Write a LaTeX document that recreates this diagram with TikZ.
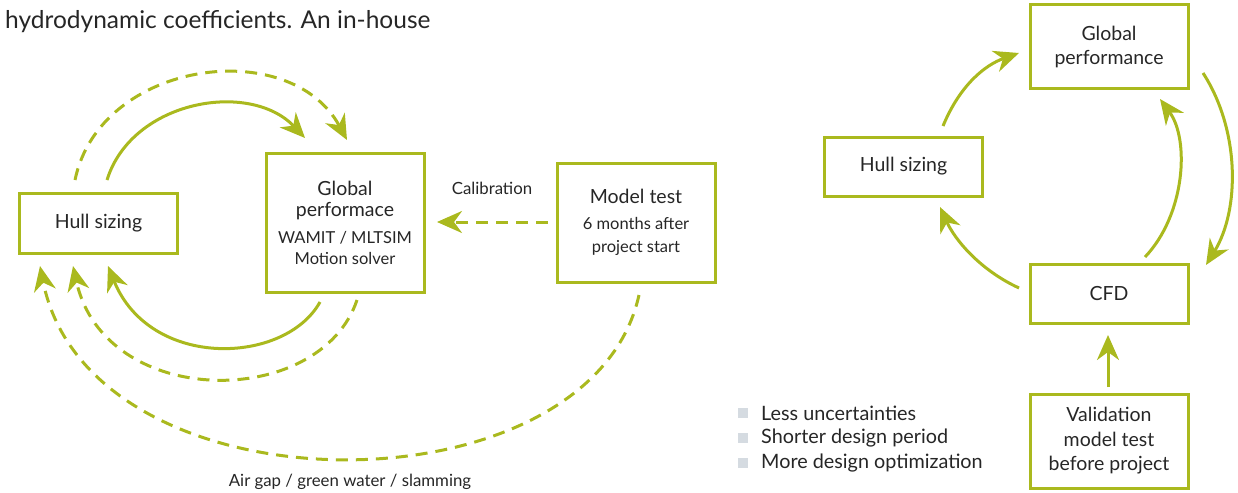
\documentclass[tikz,border=0pt]{standalone}
\usepackage{fontspec}
\setmainfont{Lato}
\usetikzlibrary{arrows.meta}
\definecolor{lime}{RGB}{170,185,30}
\definecolor{bulletgray}{RGB}{213,219,225}
\newcommand{\bigf}{\fontsize{19.5}{21}\selectfont}
\newcommand{\smallf}{\fontsize{16.5}{21}\selectfont}
\tikzset{
  box/.style={draw=lime, line width=3pt, align=center, inner sep=0pt, minimum width=158pt, text=black!85},
  bigtxt/.style={font=\fontsize{19.5}{24.5}\selectfont},
  smalltxt/.style={font=\fontsize{16.8}{21}\selectfont},
  conn/.style={draw=lime, line width=3pt, -{Stealth[length=25pt,width=22pt,inset=8pt]}},
  dconn/.style={conn, dash pattern=on 12pt off 8pt},
  plain/.style={text=black!85, inner sep=0pt},
  bsq/.style={fill=bulletgray, minimum size=10pt, inner sep=0pt},
  bullettxt/.style={plain, anchor=west, font=\fontsize{19.8}{22}\selectfont}
}
\begin{document}
\begin{tikzpicture}[x=1pt,y=-1pt]
\useasboundingbox (0,0) rectangle (1238,492);

\node[plain, anchor=west, font=\fontsize{24.5}{27}\selectfont] (head) at (5,22) {hydrodynamic coefficients. An in-house};

% left diagram boxes
\node[box, bigtxt, minimum height=60pt] (hullL) at (98.5,223) {Hull sizing};
\node[box, minimum height=139pt, font=\fontsize{16.5}{21}\selectfont] (gpL) at (345,222.5) {\bigf Global\\\bigf performace\\[6pt]\smallf WAMIT / MLTSIM\\\smallf Motion solver};
\node[box, minimum height=119pt, font=\fontsize{16.5}{23.5}\selectfont] (mt) at (636,222.5) {\bigf Model test\\[2pt]\smallf 6 months after\\\smallf project start};
\node[plain, smalltxt] (calib) at (492,188) {Calibration};
\node[plain, smalltxt] (airgap) at (350,482) {Air gap / green water / slamming};

% left connectors endpoints
\coordinate (a1s) at (107,180); \coordinate (a1e) at (305,138);
\coordinate (a2s) at (75,180);  \coordinate (a2e) at (347,140);
\coordinate (a3s) at (320,302); \coordinate (a3e) at (108,266);
\coordinate (a4s) at (357,300); \coordinate (a4e) at (73,266);
\coordinate (a5s) at (639,295); \coordinate (a5e) at (40,266);
\coordinate (a6s) at (548,222); \coordinate (a6e) at (437,222);

\draw[conn] (a1s) .. controls (132,100) and (250,80) .. (a1e);
\draw[dconn] (a2s) .. controls (100,60) and (290,35) .. (a2e);
\draw[conn] (a3s) .. controls (285,365) and (150,370) .. (a3e);
\draw[dconn] (a4s) .. controls (320,410) and (105,410) .. (a4e);
\draw[dconn] (a5s) .. controls (590,517) and (90,517) .. (a5e);
\draw[dconn] (a6s) -- (a6e);

% right diagram boxes
\node[box, bigtxt, minimum height=84pt] (gpR) at (1109,47) {Global\\performance};
\node[box, bigtxt, minimum height=59pt] (hullR) at (903.5,166.5) {Hull sizing};
\node[box, bigtxt, minimum height=59pt] (cfd) at (1109,293.5) {CFD};
\node[box, bigtxt, minimum height=94pt] (val) at (1109,441) {Validation\\model test\\before project};

\coordinate (b1s) at (943,126); \coordinate (b1e) at (1019,53);
\coordinate (b2s) at (1203,73); \coordinate (b2e) at (1206,265);
\coordinate (b3s) at (1145,257); \coordinate (b3e) at (1160,99);
\coordinate (b4s) at (1019,288); \coordinate (b4e) at (940,207);
\coordinate (b5s) at (1108,387); \coordinate (b5e) at (1108,335);

\draw[conn] (b1s) .. controls (960,85) and (985,65) .. (b1e);
\draw[conn] (b2s) .. controls (1240,130) and (1240,210) .. (b2e);
\draw[conn] (b3s) .. controls (1185,215) and (1190,140) .. (b3e);
\draw[conn] (b4s) .. controls (980,270) and (955,240) .. (b4e);
\draw[conn] (b5s) -- (b5e);

% bullets
\node[bsq] (sq1) at (743,413) {};
\node[bsq] (sq2) at (743,438) {};
\node[bsq] (sq3) at (743,463) {};
\node[bullettxt] (l1) at (761,413) {Less uncertainties};
\node[bullettxt] (l2) at (761,438) {Shorter design period};
\node[bullettxt] (l3) at (761,463) {More design optimization};
\end{tikzpicture}
\end{document}
